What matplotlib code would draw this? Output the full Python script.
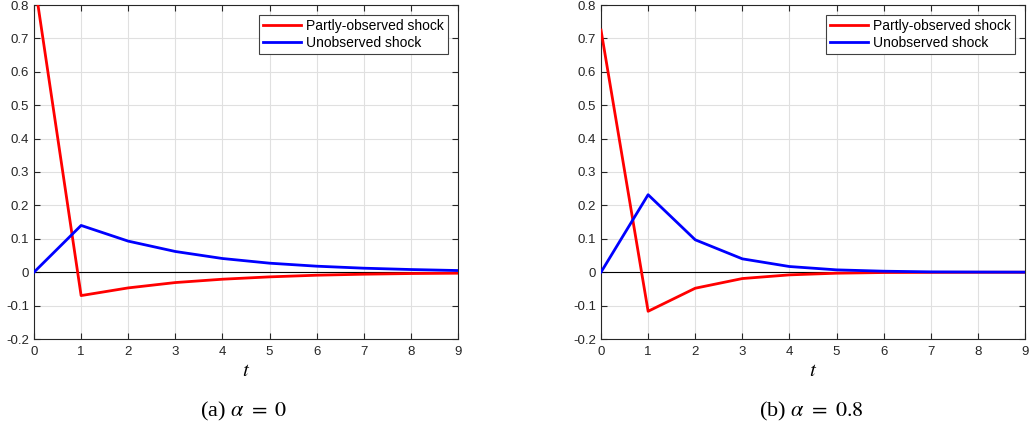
import matplotlib.pyplot as plt
import numpy as np

t = np.arange(10)

# alpha = 0
red_a = [0.88, -0.070, -0.047, -0.031, -0.021, -0.014, -0.009, -0.006, -0.004, -0.003]
blue_a = [0.0, 0.140, 0.093, 0.062, 0.041, 0.027, 0.018, 0.012, 0.008, 0.005]

# alpha = 0.8
red_b = [0.725, -0.117, -0.048, -0.019, -0.008, -0.003, -0.001, -0.0005, -0.0002, -0.0001]
blue_b = [0.0, 0.232, 0.097, 0.040, 0.017, 0.007, 0.003, 0.001, 0.0005, 0.0002]

captions = [r"(a) $\alpha\ =\ 0$", r"(b) $\alpha\ =\ 0.8$"]

plt.rcParams['font.family'] = ['Liberation Sans', 'DejaVu Sans']
plt.rcParams['mathtext.fontset'] = 'stix'

fig = plt.figure(figsize=(10.29, 4.33), dpi=100)
lefts = [34 / 1029, 601 / 1029]
panels = [(red_a, blue_a), (red_b, blue_b)]

for left, (red, blue), cap in zip(lefts, panels, captions):
    ax = fig.add_axes([left, 1 - 339 / 433, 424 / 1029, 334 / 433])
    ax.axhline(0, color='black', lw=0.8, zorder=1)
    ax.plot(t, red, color='#ff0000', lw=2, label='Partly-observed shock', zorder=3)
    ax.plot(t, blue, color='#0000ff', lw=2, label='Unobserved shock', zorder=3)
    ax.set_xlim(0, 9)
    ax.set_ylim(-0.2, 0.8)
    ax.set_xticks(range(10))
    ax.set_yticks(np.arange(-0.2, 0.81, 0.1))
    ax.set_yticklabels(['-0.2', '-0.1', '0', '0.1', '0.2', '0.3', '0.4', '0.5', '0.6', '0.7', '0.8'])
    ax.grid(True, color='#e0e0e0', lw=0.8)
    ax.set_axisbelow(True)
    ax.tick_params(direction='in', top=True, right=True, labelsize=9.5,
                   colors='#262626', length=4, width=0.8)
    ax.tick_params(axis='x', pad=5)
    for s in ax.spines.values():
        s.set_color('#262626')
        s.set_linewidth(0.8)
    ax.set_xlabel('$t$', fontsize=15, labelpad=2)
    leg = ax.legend(loc='upper right', fontsize=10, fancybox=False, framealpha=1,
                    edgecolor='#404040', borderpad=0.3, handlelength=2.7,
                    labelspacing=0.2, borderaxespad=0.7, handletextpad=0.4)
    leg.get_frame().set_linewidth(0.8)
    fig.text(left + 210 / 1029, 1 - 411 / 433, cap, ha='center', va='center',
             fontsize=16, family='Liberation Serif')

fig.savefig('out.png', dpi=100)
